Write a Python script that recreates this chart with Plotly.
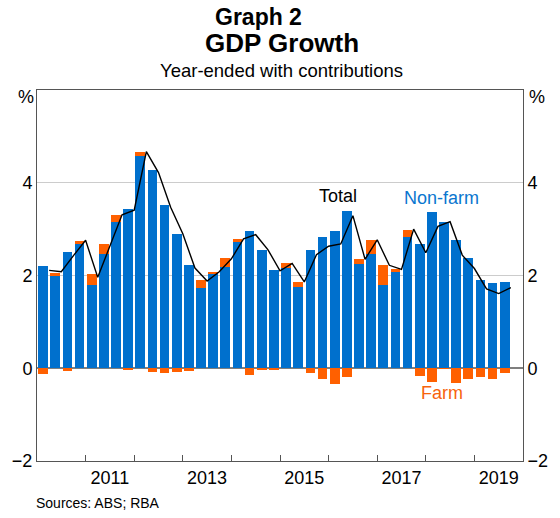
import plotly.graph_objects as go

# Quarters from 2010 Q1 to 2019 Q3
quarters = [f"{y}-Q{q}" for y in range(2010, 2020) for q in range(1, 5)][:39]

# Non-farm contribution (ppt)
nonfarm = [2.20, 1.99, 2.50, 2.69, 1.79, 2.46, 3.16, 3.44, 4.58, 4.28,
           3.51, 2.89, 2.22, 1.74, 2.05, 2.18, 2.74, 2.97, 2.54, 2.11,
           2.16, 1.75, 2.54, 2.84, 2.97, 3.40, 2.24, 2.46, 1.79, 2.08,
           2.82, 2.67, 3.38, 3.16, 2.76, 2.37, 1.90, 1.84, 1.86]

# Farm contribution (ppt)
farm = [-0.13, 0.06, -0.06, 0.06, 0.24, 0.21, 0.15, -0.04, 0.09, -0.09,
        -0.11, -0.09, -0.06, 0.16, 0.02, 0.19, 0.04, -0.15, -0.02, -0.04,
        0.10, 0.11, -0.11, -0.24, -0.34, -0.18, 0.11, 0.31, 0.43, 0.05,
        0.17, -0.16, -0.29, -0.01, -0.31, -0.24, -0.19, -0.24, -0.11]

# Total year-ended GDP growth (%)
total = [2.11, 2.08, 2.43, 2.76, 1.96, 2.64, 3.31, 3.41, 4.67, 4.22,
         3.47, 2.90, 2.16, 1.88, 2.08, 2.36, 2.79, 2.88, 2.56, 2.10,
         2.26, 1.86, 2.45, 2.63, 2.68, 3.29, 2.35, 2.77, 2.22, 2.13,
         3.00, 2.49, 3.06, 3.16, 2.44, 2.15, 1.71, 1.61, 1.74]

year_labels = ["2011", "2013", "2015", "2017", "2019"]
y_ticks = [-2, 0, 2, 4]

BLUE = "#0070CD"
ORANGE = "#FF6000"
FONT = "Arial, Liberation Sans, sans-serif"

def qpos(q):
    y, n = q.split("-Q")
    return (int(y) - 2010) * 4 + int(n) - 1

xb = [qpos(q) for q in quarters]
xl = [v + 0.5 for v in xb]
label_pos = [(int(y) - 2010) * 4 + 1.5 for y in year_labels]
boundaries = [4 * k - 0.5 for k in range(1, 10)]

fig = go.Figure()
fig.add_trace(go.Bar(x=xb, y=nonfarm, marker_color=BLUE, marker_line_width=0,
                     width=0.8, name="Non-farm"))
fig.add_trace(go.Bar(x=xb, y=farm, marker_color=ORANGE, marker_line_width=0,
                     width=0.8, name="Farm"))
fig.add_trace(go.Scatter(x=xl, y=total, mode="lines",
                         line=dict(color="black", width=1.4), name="Total"))
fig.add_trace(go.Scatter(x=[xb[0]], y=[total[0]], yaxis="y2", mode="markers",
                         marker=dict(opacity=0), hoverinfo="skip", showlegend=False))

axis_col = "#555555"
fig.update_layout(
    width=560, height=518, autosize=False,
    margin=dict(l=33, r=23, t=90, b=57, pad=0),
    paper_bgcolor="white", plot_bgcolor="white",
    barmode="relative", bargap=0, showlegend=False,
    font=dict(family=FONT, color="black", size=18),
    xaxis=dict(range=[-0.5, 39.5], tickmode="array", tickvals=label_pos,
               ticktext=year_labels, ticks="", showgrid=False, zeroline=False,
               showline=True, linecolor=axis_col, linewidth=1, mirror=True,
               tickfont=dict(size=18),
               minor=dict(tickmode="array", tickvals=boundaries, ticks="inside",
                          ticklen=6, tickcolor=axis_col, tickwidth=1, showgrid=False)),
    yaxis=dict(range=[-2, 6], tickmode="array", tickvals=y_ticks, ticks="",
               showgrid=True, gridcolor="#CCCCCC", gridwidth=1,
               zeroline=True, zerolinecolor="#7F7F7F", zerolinewidth=1.5,
               showline=True, linecolor=axis_col, linewidth=1,
               tickfont=dict(size=18)),
    yaxis2=dict(range=[-2, 6], tickmode="array", tickvals=y_ticks, ticks="",
                overlaying="y", side="right", showgrid=False, zeroline=False,
                showline=True, linecolor=axis_col, linewidth=1,
                tickfont=dict(size=18)),
)

anns = [
    dict(text="<b>Graph 2</b>", x=0.455, y=1.198, size=23, color="black"),
    dict(text="<b>GDP Growth</b>", x=0.504, y=1.127, size=26, color="black"),
    dict(text="Year-ended with contributions", x=0.504, y=1.053, size=18.5, color="black"),
]
for a in anns:
    fig.add_annotation(text=a["text"], x=a["x"], y=a["y"], xref="paper", yref="paper",
                       xanchor="center", yanchor="middle", showarrow=False,
                       font=dict(size=a["size"], color=a["color"], family=FONT))

fig.add_annotation(text="%", x=-0.003, y=0.98, xref="paper", yref="paper",
                   xanchor="right", yanchor="middle", showarrow=False, font=dict(size=18))
fig.add_annotation(text="%", x=1.008, y=0.98, xref="paper", yref="paper",
                   xanchor="left", yanchor="middle", showarrow=False, font=dict(size=18))
fig.add_annotation(text="Sources: ABS; RBA", x=-0.006, y=-0.113, xref="paper", yref="paper",
                   xanchor="left", yanchor="middle", showarrow=False, font=dict(size=14))

fig.add_annotation(text="Total", x=24.3, y=3.72, xref="x", yref="y", showarrow=False,
                   xanchor="center", yanchor="middle", font=dict(size=18, color="black"))
fig.add_annotation(text="Non-farm", x=32.8, y=3.68, xref="x", yref="y", showarrow=False,
                   xanchor="center", yanchor="middle", font=dict(size=18, color="#0A76CF"))
fig.add_annotation(text="Farm", x=32.8, y=-0.54, xref="x", yref="y", showarrow=False,
                   xanchor="center", yanchor="middle", font=dict(size=18, color="#F7630C"))

fig.write_html(
    "out.html",
    config={"displayModeBar": False, "responsive": False},
    post_script="document.body.style.margin='0';document.body.style.overflow='hidden';"
                "document.documentElement.style.overflow='hidden';",
)
